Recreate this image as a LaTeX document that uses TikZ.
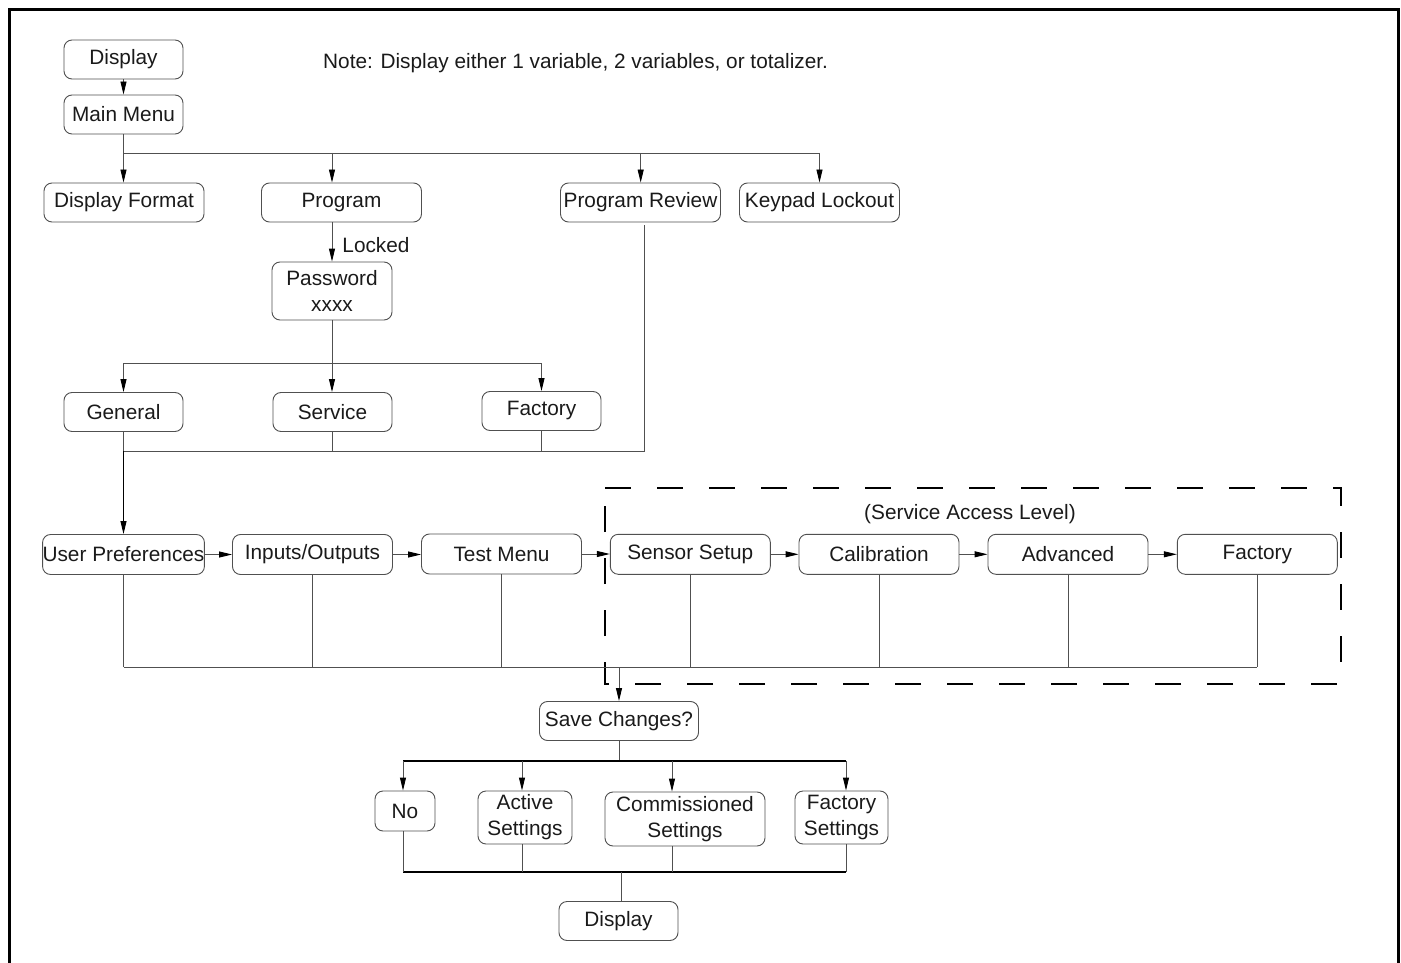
\documentclass[tikz,border=0pt]{standalone}
\usepackage{fontspec}
\setmainfont{Liberation Sans}
\usetikzlibrary{arrows.meta}
\definecolor{txt}{HTML}{1A1A1A}
\definecolor{edge}{HTML}{505050}
\tikzset{
  box/.style={draw=edge, line width=0.9pt, rounded corners=8pt, inner sep=0pt,
    text=txt, font=\fontsize{20.8}{26}\selectfont, align=center},
  sbox/.style={box, minimum width=119pt, minimum height=39pt},
  wbox/.style={box, minimum width=160pt, minimum height=40pt},
  ln/.style={draw=edge, line width=0.9pt},
  arr/.style={ln, -{Triangle[length=13pt,width=6pt,fill=black,color=black]}},
  lbl/.style={text=txt, font=\fontsize{20.8}{26}\selectfont, inner sep=0pt},
}
\begin{document}
\begin{tikzpicture}[x=1pt,y=-1pt]
\useasboundingbox (0,0) rectangle (1401,963);
% frame
\draw[line width=3pt] (9.5,963) -- (9.5,9.5) -- (1398,9.5) -- (1398,963);
% dashed service area
\draw[line width=2.6pt, dash pattern=on 26pt off 26pt] (605,488) -- (1341,488) -- (1341,684) -- (605,684) -- cycle;
\node[lbl] (sal) at (970,514) {(Service Access Level)};
\node[lbl, anchor=west] (note) at (323,63) {Note: Display either 1 variable, 2 variables, or totalizer.};

% top
\node[sbox] (disp) at (123.5,59.5) {Display};
\node[sbox] (main) at (123.5,114.5) {Main Menu};
\node[wbox, minimum height=39pt] (dfmt) at (124,202.5) {Display Format};
\node[wbox, minimum height=39pt] (prog) at (341.5,202.5) {Program};
\node[wbox, minimum height=39pt] (prev) at (640.5,202.5) {Program Review};
\node[wbox, minimum height=39pt] (keyp) at (819.5,202.5) {Keypad Lockout};
\node[box, minimum width=120pt, minimum height=58pt] (pw) at (332,291) {Password\\xxxx};
\node[sbox] (gen) at (123.5,412) {General};
\node[sbox] (serv) at (332.5,412) {Service};
\node[sbox] (fac1) at (541.5,411) {Factory};

% row 2
\node[wbox] (up) at (123.5,554.5) {User Preferences};
\node[wbox] (io) at (312.5,554.5) {Inputs/Outputs};
\node[wbox] (test) at (501.5,554) {Test Menu};
\node[wbox] (sens) at (690.3,554.3) {Sensor Setup};
\node[wbox] (cal) at (879,554.3) {Calibration};
\node[wbox] (adv) at (1068,554.3) {Advanced};
\node[wbox] (fac2) at (1257.3,554.3) {Factory};

% bottom
\node[sbox, minimum width=159pt] (save) at (619,721) {Save Changes?};
\node[box, minimum width=60pt, minimum height=40pt] (no) at (405,811) {No};
\node[box, minimum width=94pt, minimum height=53pt] (act) at (525,817.5) {Active\\Settings};
\node[box, minimum width=160pt, minimum height=54pt] (com) at (685,819) {Commissioned\\Settings};
\node[box, minimum width=93pt, minimum height=53pt] (fset) at (841.5,817.5) {Factory\\Settings};
\node[sbox] (disp2) at (618.5,921) {Display};

% connectors top
\draw[arr] (disp) -- (main);
\coordinate (b1a) at (123.5,153);
\coordinate (b1b) at (332,153);
\coordinate (b1c) at (640.7,153);
\coordinate (b1d) at (819.5,153);
\draw[ln] (main.south) -- (b1a) -- (b1d);
\draw[arr] (b1a) -- (b1a |- dfmt.north);
\draw[arr] (b1b) -- (b1b |- prog.north);
\draw[arr] (b1c) -- (b1c |- prev.north);
\draw[arr] (b1d) -- (keyp.north);
\draw[arr] (prog.south -| pw.north) -- node[lbl, right, xshift=10pt, yshift=-3pt] (lock) {Locked} (pw.north);

\coordinate (b2a) at (123.5,363);
\coordinate (b2b) at (332,363);
\coordinate (b2c) at (541.5,363);
\draw[ln] (pw.south) -- (b2b);
\draw[ln] (b2a) -- (b2c);
\draw[arr] (b2a) -- (gen.north);
\draw[arr] (b2b) -- (b2b |- serv.north);
\draw[arr] (b2c) -- (fac1.north);

\coordinate (b3a) at (123.5,451);
\coordinate (b3b) at (644,451);
\coordinate (prt) at (644,225);
\draw[ln] (gen.south) -- (b3a);
\draw[ln] (serv.south) -- (serv.south |- b3a);
\draw[ln] (fac1.south) -- (fac1.south |- b3a);
\draw[ln] (prt) -- (b3b) -- (b3a);
\draw[arr, draw=black] (b3a) -- (up.north);

% row 2 arrows
\draw[arr] (up.east) -- (io.west);
\draw[arr] (io.east) -- (io.east -| test.west);
\draw[arr] (test.east) -- (test.east -| sens.west);
\draw[arr] (sens.east) -- (cal.west);
\draw[arr] (cal.east) -- (adv.west);
\draw[arr] (adv.east) -- (fac2.west);

\coordinate (b4a) at (123.5,667.3);
\coordinate (b4b) at (1257.3,667.3);
\coordinate (b4s) at (619,667.3);
\draw[ln] (b4a) -- (b4b);
\foreach \n in {up,io,test,sens,cal,adv,fac2} \draw[ln] (\n.south) -- (\n.south |- b4a);
\draw[arr] (b4s) -- (save.north);

\coordinate (b5a) at (403,761);
\coordinate (b5b) at (522,761);
\coordinate (b5c) at (672,761);
\coordinate (b5d) at (846,761);
\draw[ln] (save.south) -- (save.south |- b5a);
\draw[ln, line width=1.6pt, draw=black] (b5a) -- (b5d);
\draw[arr] (b5a) -- (b5a |- no.north);
\draw[arr] (b5b) -- (b5b |- act.north);
\draw[arr] (b5c) -- (b5c |- com.north);
\draw[arr] (b5d) -- (b5d |- fset.north);

\coordinate (b6a) at (403,872);
\coordinate (b6b) at (522,872);
\coordinate (b6c) at (672,872);
\coordinate (b6d) at (846,872);
\coordinate (b6e) at (621,872);
\draw[ln, line width=1.6pt, draw=black] (b6a) -- (b6d);
\draw[ln] (b6a |- no.south) -- (b6a);
\draw[ln] (b6b |- act.south) -- (b6b);
\draw[ln] (b6c |- com.south) -- (b6c);
\draw[ln] (b6d |- fset.south) -- (b6d);
\draw[ln] (b6e) -- (b6e |- disp2.north);
\end{tikzpicture}
\end{document}
